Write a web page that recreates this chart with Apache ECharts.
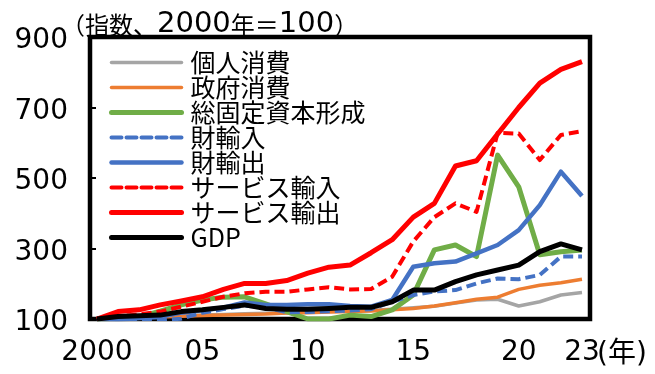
<!DOCTYPE html>
<html>
<head>
<meta charset="utf-8">
<script src="https://cdn.jsdelivr.net/npm/echarts@6/dist/echarts.min.js"></script>
<style>
html,body{margin:0;padding:0;background:#fff;}
#c{width:655px;height:374px;}
</style>
</head>
<body>
<div id="c"></div>
<script>
const years = [2000,2001,2002,2003,2004,2005,2006,2007,2008,2009,2010,2011,2012,2013,2014,2015,2016,2017,2018,2019,2020,2021,2022,2023];
const xTickValues = [2000,2005,2010,2015,2020,2023];
const seriesNames = ['個人消費','政府消費','総固定資本形成','財輸入','財輸出','サービス輸入','サービス輸出','GDP'];
const privateConsumption = [100,103,105,107,109,111,113,115,116,118,119,121,123,125,128,132,136,145,154,156,137,149,168,175];
const governmentConsumption = [100,102,104,106,108,110,111,113,114,117,118,120,121,123,126,130,137,146,156,162,184,196,203,213];
const grossFixedCapital = [100,102,106,122,140,154,162,163,143,121,100,100,111,107,126,168,296,310,277,565,475,282,291,296];
const goodsImports = [100,100,98,96,101,118,128,138,133,119,120,122,124,128,149,168,178,182,201,215,213,225,277,277];
const goodsExports = [100,98,103,106,118,125,132,147,140,140,142,142,137,135,154,248,258,263,286,310,352,423,518,449];
const servicesImports = [100,108,113,121,135,149,163,173,177,177,184,190,184,185,220,320,389,428,404,628,626,551,622,633];
const servicesExports = [100,121,126,140,151,163,184,201,201,209,230,247,253,288,325,389,428,534,549,625,700,769,808,830];
const gdp = [100,107,109,111,121,126,133,140,130,128,128,130,133,133,149,182,182,206,225,239,253,291,313,296];
const yTicks = [100,300,500,700,900];

const pairs = arr => years.map((y,i)=>[y,arr[i]]);
const styles = [
  {color:'#A5A5A5', width:3.5, type:'solid'},
  {color:'#ED7D31', width:3.5, type:'solid'},
  {color:'#70AD47', width:5, type:'solid'},
  {color:'#4472C4', width:4, type:[10,5]},
  {color:'#4472C4', width:4.5, type:'solid'},
  {color:'#FF0000', width:4, type:[10,5]},
  {color:'#FF0000', width:5, type:'solid'},
  {color:'#000000', width:5, type:'solid'}
];
const dataSets = [privateConsumption,governmentConsumption,grossFixedCapital,goodsImports,goodsExports,servicesImports,servicesExports,gdp];

const chart = echarts.init(document.getElementById('c'), null, {renderer:'canvas'});
chart.setOption({
  animation:false,
  backgroundColor:'#fff',
  title:{
    text:'{c|（指数、}{d|2000}{c|年＝}{d|100}{c|）}',
    left:56, top:5,
    textStyle:{
      fontWeight:'normal',
      rich:{
        c:{fontSize:24, fontWeight:'normal', fontFamily:'Noto Sans CJK JP', color:'#000'},
        d:{fontSize:29, fontWeight:'normal', fontFamily:'DejaVu Sans', color:'#000'}
      }
    }
  },
  graphic:[{
    type:'text', left:597, top:341,
    style:{text:'(年)', fontSize:28, fontFamily:'DejaVu Sans, Noto Sans CJK JP', fill:'#000'}
  }],
  grid:{left:90, right:65, top:37, bottom:55, show:true, borderColor:'#000', borderWidth:4.5, backgroundColor:'transparent'},
  legend:{
    orient:'vertical', left:104, top:45,
    itemWidth:70, itemHeight:14, itemGap:0,
    data:seriesNames.map((n,i)=>({
      name:n,
      itemStyle:{opacity:0},
      lineStyle:{color:styles[i].color, width:styles[i].width, type:styles[i].type, cap:'round'}
    })),
    textStyle:{fontSize:25, lineHeight:21, fontFamily:'Noto Sans CJK JP', color:'#000', padding:[3,0,0,4]}
  },
  xAxis:{
    type:'value', min:1999.67, max:2023.38,
    splitLine:{show:false}, axisLine:{show:false}, axisTick:{show:false},
    axisLabel:{
      customValues:xTickValues,
      formatter:v=> v===2000 ? '2000' : String(v%100).padStart(2,'0'),
      fontSize:28, margin:20, color:'#000', fontFamily:'DejaVu Sans'
    }
  },
  yAxis:{
    type:'value', min:100, max:900, interval:200,
    splitLine:{show:false},
    axisLine:{show:false},
    axisTick:{show:true, inside:true, length:6, lineStyle:{color:'#000', width:2}},
    axisLabel:{
      margin:22,
      formatter:v=>'{n|'+v+'}',
      rich:{n:{fontSize:28, color:'#000', fontFamily:'DejaVu Sans', padding:[8,0,0,0]}}
    }
  },
  series: seriesNames.map((n,i)=>({
    name:n, type:'line', data:pairs(dataSets[i]), symbol:'none', smooth:false,
    color:styles[i].color,
    lineStyle:{color:styles[i].color, width:styles[i].width, type:styles[i].type, cap:'butt', join:'round'},
    z:2+i
  }))
});
</script>
</body>
</html>
